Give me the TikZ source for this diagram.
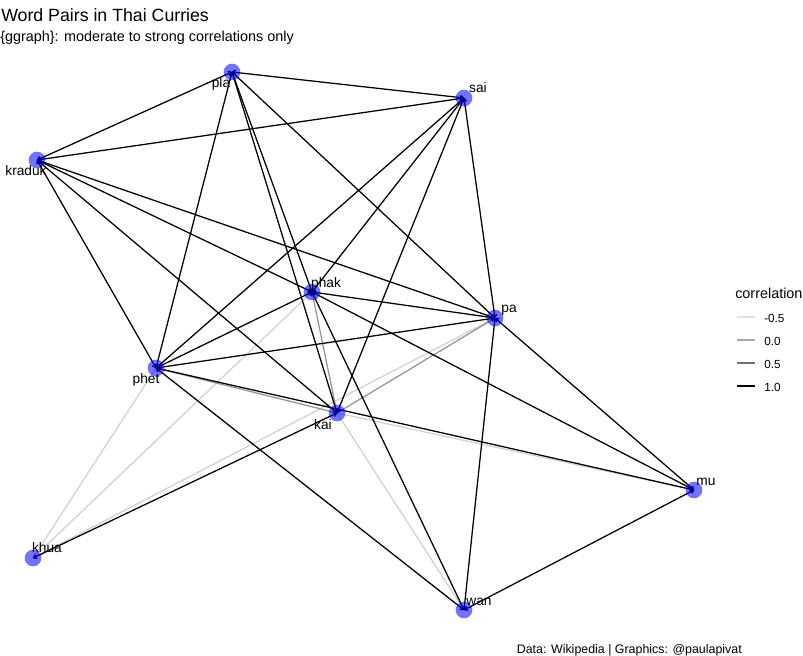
\documentclass[tikz,border=0pt]{standalone}
\usepackage{fontspec}
\setmainfont{Liberation Sans}
\usetikzlibrary{arrows.meta}
\pgfdeclarelayer{bg}
\pgfdeclarelayer{canvas}
\pgfsetlayers{canvas,bg,main}
\definecolor{nodeblue}{RGB}{0,0,255}
\definecolor{lightedge}{RGB}{210,210,210}
\definecolor{midedge}{RGB}{150,150,150}
\definecolor{leg1}{RGB}{224,224,224}
\definecolor{leg2}{RGB}{170,170,170}
\definecolor{leg3}{RGB}{112,112,112}
\tikzset{
  vert/.style={circle, fill=nodeblue, fill opacity=0.55, draw=none, minimum size=12.5pt, inner sep=0pt},
  wordlbl/.style={font=\fontsize{10.3}{12}\selectfont, inner sep=0pt, anchor=center, text=black},
  edgeB/.style={draw=black, line width=0.95pt, {To[length=3pt,width=4pt]}-{To[length=3pt,width=4pt]}},
  edgeG/.style={draw=midedge, line width=0.95pt},
  edgeL/.style={draw=lightedge, line width=0.95pt},
  legline/.style={line width=0.9pt},
  leglbl/.style={font=\fontsize{8.8}{10}\selectfont, inner sep=0pt, anchor=west},
}
\begin{document}
\begin{tikzpicture}[x=0.75pt, y=-0.75pt]
\begin{pgfonlayer}{canvas}
\fill[white] (0,0) rectangle (803,656);
\end{pgfonlayer}
\path[use as bounding box] (0,0) rectangle (803,656);

% vertices
\node[vert] (pla) at (232,72) {};
\node[vert] (sai) at (464,98) {};
\node[vert] (kraduk) at (37,160) {};
\node[vert] (phak) at (312,292) {};
\node[vert] (pa) at (495,318) {};
\node[vert] (phet) at (156,368) {};
\node[vert] (kai) at (337,413) {};
\node[vert] (mu) at (694,490) {};
\node[vert] (khua) at (33,558) {};
\node[vert] (wan) at (464,610) {};

\begin{pgfonlayer}{bg}
% light (weak) edges
\draw[edgeL] (phet.center) -- (khua.center);
\draw[edgeL] (phak.center) -- (khua.center);
\draw[edgeL] (pa.center) -- (khua.center);
\draw[edgeL] (kai.center) -- (wan.center);
\draw[edgeL] (kai.center) -- (mu.center);
% mid edges
\draw[edgeG] (phet.center) -- (kai.center);
\draw[edgeG] (phak.center) -- (kai.center);
\draw[edgeG] (pa.center) -- (kai.center);
% strong edges
\draw[edgeB] (pla.center) -- (sai.center);
\draw[edgeB] (pla.center) -- (kraduk.center);
\draw[edgeB] (pla.center) -- (phet.center);
\draw[edgeB] (pla.center) -- (phak.center);
\draw[edgeB] (pla.center) -- (kai.center);
\draw[edgeB] (pla.center) -- (pa.center);
\draw[edgeB] (sai.center) -- (kraduk.center);
\draw[edgeB] (sai.center) -- (phet.center);
\draw[edgeB] (sai.center) -- (phak.center);
\draw[edgeB] (sai.center) -- (kai.center);
\draw[edgeB] (sai.center) -- (pa.center);
\draw[edgeB] (kraduk.center) -- (phet.center);
\draw[edgeB] (kraduk.center) -- (kai.center);
\draw[edgeB] (kraduk.center) -- (phak.center);
\draw[edgeB] (kraduk.center) -- (pa.center);
\draw[edgeB] (phet.center) -- (phak.center);
\draw[edgeB] (phet.center) -- (pa.center);
\draw[edgeB] (phet.center) -- (mu.center);
\draw[edgeB] (phet.center) -- (wan.center);
\draw[edgeB] (phak.center) -- (pa.center);
\draw[edgeB] (phak.center) -- (mu.center);
\draw[edgeB] (phak.center) -- (wan.center);
\draw[edgeB] (pa.center) -- (mu.center);
\draw[edgeB] (pa.center) -- (wan.center);
\draw[edgeB] (kai.center) -- (khua.center);
\draw[edgeB] (mu.center) -- (wan.center);
\end{pgfonlayer}

% labels
\node[wordlbl] (lpla) at (221,84) {pla};
\node[wordlbl] (lsai) at (478,88) {sai};
\node[wordlbl] (lkraduk) at (26,171) {kraduk};
\node[wordlbl] (lphak) at (326,284) {phak};
\node[wordlbl] (lpa) at (509,310) {pa};
\node[wordlbl] (lphet) at (146,380) {phet};
\node[wordlbl] (lkai) at (323,425) {kai};
\node[wordlbl] (lmu) at (706,482) {mu};
\node[wordlbl] (lkhua) at (47,548) {khua};
\node[wordlbl] (lwan) at (479,602) {wan};

% titles
\node[anchor=base west, inner sep=0pt, font=\fontsize{13.3}{16}\selectfont] (title) at (1,21.5) {Word Pairs in Thai Curries};
\node[anchor=base west, inner sep=0pt, font=\fontsize{10.8}{13}\selectfont] (subtitle) at (0,41.5) {\{ggraph\}: moderate to strong correlations only};
\node[anchor=base east, inner sep=0pt, font=\fontsize{9.3}{11}\selectfont] (caption) at (742,653) {Data: Wikipedia | Graphics: @paulapivat};

% legend
\node[anchor=west, inner sep=0pt, font=\fontsize{10.8}{13}\selectfont] (legtitle) at (735,293) {correlation};
\coordinate (la1) at (737,317); \coordinate (lb1) at (755,317);
\coordinate (la2) at (737,340); \coordinate (lb2) at (755,340);
\coordinate (la3) at (737,363); \coordinate (lb3) at (755,363);
\coordinate (la4) at (737,386); \coordinate (lb4) at (755,386);
\draw[legline, leg1] (la1) -- (lb1);
\draw[legline, leg2] (la2) -- (lb2);
\draw[legline, leg3] (la3) -- (lb3);
\draw[legline, black] (la4) -- (lb4);
\node[leglbl] (l1) at (764,318) {-0.5};
\node[leglbl] (l2) at (764,341) {0.0};
\node[leglbl] (l3) at (764,364) {0.5};
\node[leglbl] (l4) at (764,387) {1.0};
\end{tikzpicture}
\end{document}
